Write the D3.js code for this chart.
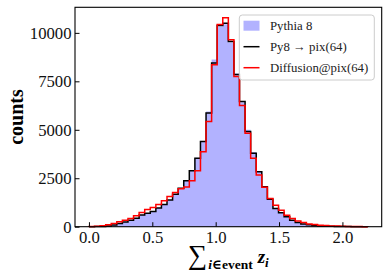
<!DOCTYPE html>
<html>
<head>
<meta charset="utf-8">
<script src="https://cdn.jsdelivr.net/npm/d3@7"></script>
<style>
  body { margin: 0; background: #fff; }
  svg text { font-family: "Liberation Serif", "DejaVu Serif", serif; }
</style>
</head>
<body>
<div id="chart"></div>
<script>
// histogram binning: 50 bins over [0, 2.2]
const binLo = 0, binHi = 2.2, nBins = 50;

// counts per bin
const pythia = [0, 5, 20, 45, 95, 165, 245, 335, 450, 605, 705, 800, 975, 1160, 1390, 1690, 1990, 2380, 2900, 3560,
  4420, 5940, 8620, 10330, 10450, 9500, 7900, 6420, 5000, 3860, 2870, 2080, 1420, 950, 720, 510, 340, 220, 150, 95,
  60, 40, 30, 20, 12, 8, 5, 3, 2, 1];
const py8pix = [0, 5, 15, 40, 90, 160, 240, 330, 440, 600, 700, 790, 970, 1150, 1380, 1680, 1980, 2370, 2890, 3530,
  4390, 5860, 8450, 10380, 10500, 9560, 7850, 6460, 4910, 3790, 2840, 2060, 1410, 940, 715, 510, 335, 215, 145, 95,
  60, 40, 30, 20, 12, 8, 5, 3, 2, 1];
const diffusion = [8, 20, 45, 95, 165, 250, 335, 425, 560, 735, 890, 990, 1150, 1335, 1560, 1760, 1960, 2050, 2370, 2890,
  3870, 5430, 8360, 10430, 10780, 9650, 7750, 6250, 4820, 3530, 2665, 2030, 1460, 1110, 855, 595, 425, 300, 215, 145,
  115, 80, 60, 40, 30, 20, 15, 10, 6, 3];

const xTicks = [0, 0.5, 1.0, 1.5, 2.0];
const yTicks = [0, 2500, 5000, 7500, 10000];
const legendLabels = ['Pythia 8', 'Py8 \u2192 pix(64)', 'Diffusion@pix(64)'];

const width = 390, height = 279;
const margin = { top: 7.3, right: 8.3, bottom: 52.3, left: 75 };
const innerW = width - margin.left - margin.right;
const innerH = height - margin.top - margin.bottom;

const edges = d3.range(nBins + 1).map(i => binLo + (binHi - binLo) * i / nBins);
const pad = 0.05 * (binHi - binLo);
const yMax = d3.max([...pythia, ...py8pix, ...diffusion]) * 1.05;

const x = d3.scaleLinear().domain([binLo - pad, binHi + pad]).range([0, innerW]);
const y = d3.scaleLinear().domain([0, yMax]).range([innerH, 0]);

const svg = d3.select('#chart').append('svg')
  .attr('width', width)
  .attr('height', height);

const g = svg.append('g')
  .attr('transform', `translate(${margin.left},${margin.top})`);

// step outline of a histogram, closed down to zero at both ends
function stepPath(counts) {
  let d = `M${x(edges[0])},${y(0)}`;
  counts.forEach((c, i) => {
    d += `L${x(edges[i])},${y(c)}L${x(edges[i + 1])},${y(c)}`;
  });
  d += `L${x(edges[nBins])},${y(0)}`;
  return d;
}

// filled Pythia histogram
g.append('path')
  .attr('d', stepPath(pythia) + 'Z')
  .attr('fill', 'blue')
  .attr('fill-opacity', 0.3)
  .attr('stroke', 'none');

g.append('path')
  .attr('d', stepPath(py8pix))
  .attr('fill', 'none')
  .attr('stroke', 'black')
  .attr('stroke-width', 1.5);

g.append('path')
  .attr('d', stepPath(diffusion))
  .attr('fill', 'none')
  .attr('stroke', 'red')
  .attr('stroke-width', 1.5);

// axes, ticks pointing in
const xAxis = g.append('g')
  .attr('transform', `translate(0,${innerH})`)
  .call(d3.axisBottom(x).tickValues(xTicks).tickFormat(d3.format('.1f'))
    .tickSizeInner(-4.5).tickSizeOuter(0).tickPadding(4));

const yAxis = g.append('g')
  .call(d3.axisLeft(y).tickValues(yTicks).tickFormat(d3.format('d'))
    .tickSizeInner(-4.5).tickSizeOuter(0).tickPadding(3.5));

[xAxis, yAxis].forEach(a => {
  a.select('.domain').remove();
  a.selectAll('.tick line').attr('stroke', 'black').attr('stroke-width', 1);
  a.selectAll('.tick text')
    .attr('fill', '#111')
    .style('font-size', '16.7px');
});

// frame
g.append('rect')
  .attr('width', innerW)
  .attr('height', innerH)
  .attr('fill', 'none')
  .attr('stroke', 'black')
  .attr('stroke-width', 1.1);

// axis labels
svg.append('text')
  .attr('transform', `translate(23,${margin.top + innerH / 2}) rotate(-90)`)
  .attr('text-anchor', 'middle')
  .style('font-size', '20px')
  .style('font-weight', 'bold')
  .text('counts');

const xl = svg.append('text')
  .attr('x', margin.left + innerW / 2)
  .attr('y', 264)
  .attr('text-anchor', 'middle')
  .style('font-weight', 'bold');
xl.append('tspan').style('font-size', '27px').style('font-weight', 'normal').text('\u2211');
xl.append('tspan').attr('dy', 5).attr('dx', 1).style('font-size', '13.5px').style('font-style', 'italic').text('i');
xl.append('tspan').style('font-size', '13.5px').text('\u2208event');
xl.append('tspan').attr('dy', -6).attr('dx', 5).style('font-size', '19px').style('font-style', 'italic').text('z');
xl.append('tspan').attr('dy', 4).style('font-size', '13px').style('font-style', 'italic').text('i');

// legend
const lx = 239.3, ly = 15, lw = 135, lh = 65;
const legend = svg.append('g');
legend.append('rect')
  .attr('x', lx).attr('y', ly)
  .attr('width', lw).attr('height', lh)
  .attr('rx', 3)
  .attr('fill', 'white')
  .attr('fill-opacity', 0.8)
  .attr('stroke', '#cccccc')
  .attr('stroke-width', 1);

const rowY = [25.7, 46.7, 67.7];
legend.append('rect')
  .attr('x', 243.5).attr('y', rowY[0] - 5)
  .attr('width', 16).attr('height', 10)
  .attr('fill', 'blue').attr('fill-opacity', 0.3);
legend.append('line')
  .attr('x1', 243.5).attr('x2', 259.5)
  .attr('y1', rowY[1]).attr('y2', rowY[1])
  .attr('stroke', 'black').attr('stroke-width', 1.5);
legend.append('line')
  .attr('x1', 243.5).attr('x2', 259.5)
  .attr('y1', rowY[2]).attr('y2', rowY[2])
  .attr('stroke', 'red').attr('stroke-width', 1.5);

legend.selectAll('.leg-label')
  .data(legendLabels)
  .enter().append('text')
  .attr('class', 'leg-label')
  .attr('x', 270)
  .attr('y', (d, i) => rowY[i])
  .attr('dy', '0.35em')
  .style('font-size', '12.8px')
  .attr('fill', '#222')
  .text(d => d);
</script>
</body>
</html>
